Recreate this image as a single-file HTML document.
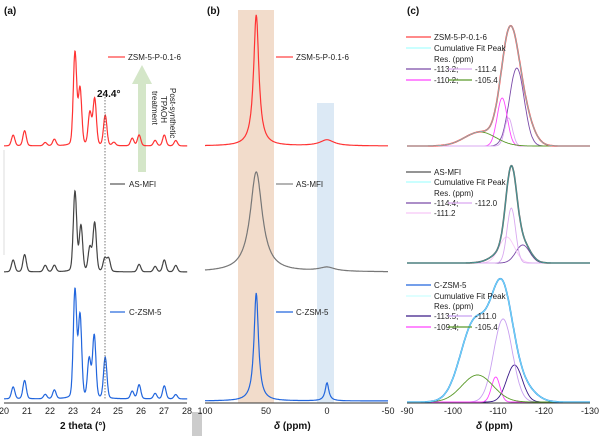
<!DOCTYPE html>
<html><head><meta charset="utf-8"><style>
body{margin:0;background:#fff}
svg{display:block;font-family:"Liberation Sans",sans-serif}
</style></head><body>
<svg id="s" width="600" height="436" xmlns="http://www.w3.org/2000/svg">
<rect x="0" y="0" width="600" height="436" fill="#fff"/>
<rect x="238" y="10" width="36" height="393" fill="#f2dccb"/>
<rect x="317" y="103" width="17" height="300" fill="#dce9f5"/>
<rect x="192" y="412" width="10" height="24" fill="#ccc"/>
<line x1="4" y1="150" x2="4" y2="255" stroke="#ddd" stroke-width="1"/>
<rect x="138" y="82" width="8" height="90" fill="#d4e6c8"/>
<polygon points="132,84 142,65 152,84" fill="#d4e6c8"/>
<g id="g"></g>
<g stroke="#333" stroke-width="1" fill="none">
<line x1="4" y1="403" x2="187" y2="403"/>
<line x1="205" y1="403" x2="388" y2="403"/>
<line x1="407" y1="403" x2="590" y2="403"/>
</g>
<line x1="105" y1="97" x2="105" y2="400" stroke="#555" stroke-width="0.8" stroke-dasharray="1.5,1.5"/>
<g font-size="9" fill="#222" text-anchor="middle">
<text x="4" y="414">20</text><text x="27" y="414">21</text><text x="50" y="414">22</text><text x="73" y="414">23</text><text x="96" y="414">24</text><text x="118" y="414">25</text><text x="141" y="414">26</text><text x="164" y="414">27</text><text x="187" y="414">28</text>
<text x="205" y="414">100</text><text x="266" y="414">50</text><text x="327" y="414">0</text><text x="388" y="414">-50</text>
<text x="407" y="414">-90</text><text x="453" y="414">-100</text><text x="498" y="414">-110</text><text x="544" y="414">-120</text><text x="590" y="414">-130</text>
</g>
<g font-size="10" font-weight="bold" fill="#111">
<text x="4" y="14">(a)</text><text x="207" y="14">(b)</text><text x="407" y="14">(c)</text>
<text x="60" y="429">2 theta (°)</text>
<text x="97" y="97">24.4°</text>
<text x="274" y="429"><tspan font-style="italic">δ</tspan> (ppm)</text>
<text x="476" y="429"><tspan font-style="italic">δ</tspan> (ppm)</text>
</g>
<g font-size="8" fill="#222">
<text transform="translate(170,88) rotate(90)">Post-synthetic</text>
<text transform="translate(161,96) rotate(90)">TPAOH</text>
<text transform="translate(152,91) rotate(90)">treatment</text>
<text x="128" y="60">ZSM-5-P-0.1-6</text>
<text x="129" y="187">AS-MFI</text>
<text x="129" y="315">C-ZSM-5</text>
<text x="296" y="60">ZSM-5-P-0.1-6</text>
<text x="296" y="187">AS-MFI</text>
<text x="296" y="315">C-ZSM-5</text>
</g>
<g stroke-width="1.2">
<line x1="108" y1="57" x2="125" y2="57" stroke="#f44"/>
<line x1="110" y1="184" x2="125" y2="184" stroke="#555"/>
<line x1="110" y1="312" x2="125" y2="312" stroke="#2266dd"/>
<line x1="276" y1="57" x2="293" y2="57" stroke="#f44"/>
<line x1="276" y1="184" x2="293" y2="184" stroke="#888"/>
<line x1="276" y1="312" x2="293" y2="312" stroke="#2266dd"/>
</g>
<g font-size="8" fill="#222">
<text x="434" y="40">ZSM-5-P-0.1-6</text><text x="434" y="51">Cumulative Fit Peak</text><text x="434" y="62">Res. (ppm)</text>
<text x="434" y="72">-113.2;</text><text x="475" y="72">-111.4</text><text x="434" y="83">-110.2;</text><text x="475" y="83">-105.4</text>
<text x="434" y="175">AS-MFI</text><text x="434" y="185">Cumulative Fit Peak</text><text x="434" y="196">Res. (ppm)</text>
<text x="434" y="206">-114.4;</text><text x="475" y="206">-112.0</text><text x="434" y="216">-111.2</text>
<text x="434" y="288">C-ZSM-5</text><text x="434" y="299">Cumulative Fit Peak</text><text x="434" y="309">Res. (ppm)</text>
<text x="434" y="319">-113.5;</text><text x="475" y="319">-111.0</text><text x="434" y="330">-109.4;</text><text x="475" y="330">-105.4</text>
</g>
<g stroke-width="1.3">
<line x1="406" y1="37" x2="431" y2="37" stroke="#f44"/><line x1="406" y1="48" x2="431" y2="48" stroke="#aff"/>
<line x1="406" y1="69" x2="431" y2="69" stroke="#7a4aa8"/><line x1="448" y1="69" x2="472" y2="69" stroke="#d9a8f0"/>
<line x1="406" y1="80" x2="431" y2="80" stroke="#f4f"/><line x1="448" y1="80" x2="472" y2="80" stroke="#5a9a2a"/>
<line x1="406" y1="172" x2="431" y2="172" stroke="#555"/><line x1="406" y1="182" x2="431" y2="182" stroke="#aff"/>
<line x1="406" y1="203" x2="431" y2="203" stroke="#7a4aa8"/><line x1="448" y1="203" x2="472" y2="203" stroke="#d9a8f0"/>
<line x1="406" y1="213" x2="431" y2="213" stroke="#f8c8f8"/>
<line x1="406" y1="285" x2="431" y2="285" stroke="#2266dd"/><line x1="406" y1="296" x2="431" y2="296" stroke="#cff"/>
<line x1="406" y1="316" x2="431" y2="316" stroke="#3a1a88"/><line x1="448" y1="316" x2="472" y2="316" stroke="#c8a0f0"/>
<line x1="406" y1="327" x2="431" y2="327" stroke="#f4f"/><line x1="448" y1="327" x2="472" y2="327" stroke="#5a9a2a"/>
</g>
</svg>
<script>
var g=document.getElementById('g'),NS='http://www.w3.org/2000/svg';
function path(d,c,w){var p=document.createElementNS(NS,'path');p.setAttribute('d',d);p.setAttribute('fill','none');p.setAttribute('stroke',c);p.setAttribute('stroke-width',w);g.appendChild(p);}
function lor(x,c,h,w){var t=(x-c)/w;return h/(1+t*t);}
function gau(x,c,h,w){var t=(x-c)/w;return h*Math.exp(-0.693*t*t);}
function draw(a,b,map,base,f,c,w,n){var d='';for(var i=0;i<=n;i++){var v=a+(b-a)*i/n;var y=base-f(v);d+=(i?'L':'M')+map(v).toFixed(1)+','+y.toFixed(1);}path(d,c,w);}
var mA=function(v){return 4+(v-20)*22.9;};
function xrd(P){return function(x){var s=0;P.forEach(function(p){s+=gau(x,p[0],p[1],p[2]||0.085)+lor(x,p[0],p[1]*0.08,0.15);});return s;};}
draw(20,28,mA,146,xrd([[20.4,10],[20.9,14],[21.8,3],[22.2,6],[23.1,86],[23.32,52],[23.75,30],[23.96,43],[24.42,28],[24.8,3],[25.6,7],[25.9,10],[26.6,5],[27.0,10],[27.5,5]]),'#f33',1.2,700);
draw(20,28,mA,272,xrd([[20.4,11],[20.9,16],[21.8,6],[22.2,6],[23.1,74],[23.36,42],[23.75,22],[23.96,45],[24.4,12],[24.57,12],[25.9,7],[26.6,5],[27.0,11],[27.5,6]]),'#444',1.2,700);
draw(20,28,mA,399,xrd([[20.4,11],[20.9,17],[21.8,4],[22.2,8],[23.1,100],[23.32,76],[23.72,36],[23.94,58],[24.42,38],[25.6,7],[25.9,13],[26.6,5],[27.0,12],[27.5,4]]),'#2266dd',1.2,700);
var mB=function(v){return 205+(100-v)*183/150;};
draw(100,-50,mB,146,function(x){return lor(x,58,131,2.6)+lor(x,0,6,7);},'#f33',1.2,400);
draw(100,-50,mB,272,function(x){return lor(x,58,100,6)+lor(x,0,4,8);},'#777',1.2,400);
draw(100,-50,mB,401,function(x){return lor(x,58,108,2.2)+lor(x,0,18,1.8);},'#2266dd',1.2,400);
var mC=function(v){return 407+(-90-v)*183/40;};
function comp(base,list,tot,tc,tc2){
list.forEach(function(p){draw(-90,-130,mC,base,function(x){return gau(x,p[0],p[1],p[2]);},p[3],0.9,300);});
draw(-90,-130,mC,base,tot,tc,1.6,300);draw(-90,-130,mC,base,tot,tc2,0.7,300);}
comp(146,[[-114,78,1.9,'#7a4aa8'],[-110.8,48,1.3,'#f4f'],[-112.2,28,1.0,'#d9a8f0'],[-106,14,4,'#5a9a2a']],
 function(x){return gau(x,-112.3,95,2.2)+gau(x,-114.8,40,2.6)+gau(x,-106,14,4);},'#f44','#6cc');
comp(263,[[-115.3,18,1.8,'#7a4aa8'],[-111.8,26,2,'#f8c8f8'],[-112.8,55,1.1,'#d9a8f0']],
 function(x){return gau(x,-112.8,80,1.4)+gau(x,-112,15,3.2)+gau(x,-115.5,14,1.8);},'#555','#4aa');
comp(402,[[-113.5,37,2,'#3a1a88'],[-111,83,2.4,'#c8a0f0'],[-109.4,25,1.1,'#f4f'],[-105.4,27,4,'#5a9a2a']],
 function(x){return gau(x,-110.8,108,2.8)+gau(x,-104.8,80,3.6)+gau(x,-115.5,14,3);},'#2a8ae0','#8ef');
</script>
</body></html>
